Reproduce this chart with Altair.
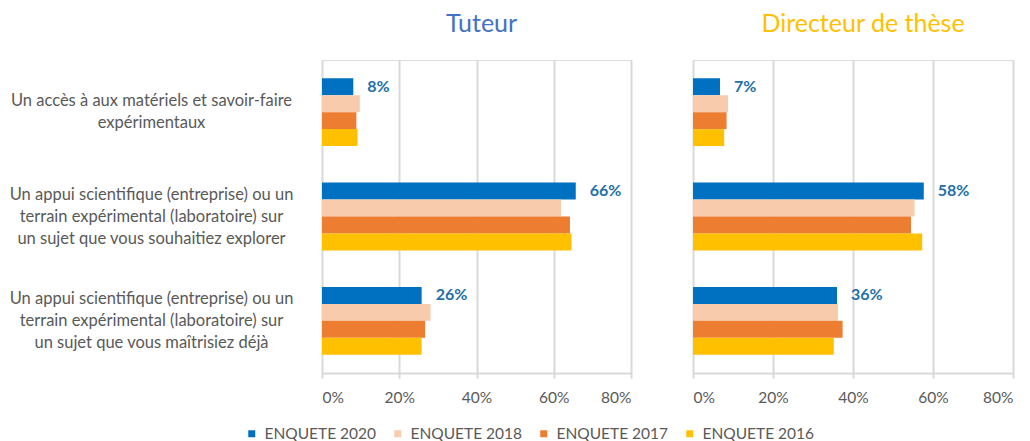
import altair as alt
import pandas as pd

categories = [
    "Un accès à aux matériels et savoir-faire|expérimentaux",
    "Un appui scientifique (entreprise) ou un|terrain expérimental (laboratoire) sur|un sujet que vous souhaitiez explorer",
    "Un appui scientifique (entreprise) ou un|terrain expérimental (laboratoire) sur|un sujet que vous maîtrisiez déjà",
]
series = ["ENQUETE 2020", "ENQUETE 2018", "ENQUETE 2017", "ENQUETE 2016"]
colors = ["#0070C0", "#F8CBAD", "#ED7D31", "#FFC000"]

tuteur_2020 = [8.1, 65.7, 25.8]
tuteur_2018 = [9.8, 61.9, 28.1]
tuteur_2017 = [8.9, 64.2, 26.7]
tuteur_2016 = [9.2, 64.6, 25.8]
tuteur_labels = ["8%", "66%", "26%"]

directeur_2020 = [6.75, 57.7, 36.0]
directeur_2018 = [8.75, 55.4, 36.25]
directeur_2017 = [8.4, 54.5, 37.4]
directeur_2016 = [7.8, 57.3, 35.2]
directeur_labels = ["7%", "58%", "36%"]

x_ticks = [0, 0.2, 0.4, 0.6, 0.8]

FONT = "Lato"
GRAY = "#595959"
GRID = "#D9D9D9"


def make_df(vals):
    rows = []
    for s, v in zip(series, vals):
        for c, x in zip(categories, v):
            rows.append({"cat": c, "series": s, "value": x / 100})
    return pd.DataFrame(rows)


def make_lbl(v2020, labels):
    return pd.DataFrame({"cat": categories, "series": series[0],
                         "value": [x / 100 for x in v2020], "label": labels})


def panel(df, ldf, width, title, tcolor, tdx, show_y):
    if show_y:
        yaxis = alt.Axis(labelExpr="split(datum.label, '|')", labelAlign="center",
                         labelBaseline="middle", labelPadding=171, labelLimit=400,
                         labelOffset={"condition": {"test": "length(split(datum.value, '|')) == 2",
                                                    "value": -11}, "value": -22},
                         labelLineHeight=22, labelFontSize=16.5, labelColor=GRAY,
                         labelFont=FONT, ticks=False, domain=False, title=None, grid=False)
    else:
        yaxis = alt.Axis(labels=False, ticks=False, domain=False, title=None, grid=False)
    y = alt.Y("cat:N", sort=categories,
              scale=alt.Scale(domain=categories, paddingInner=0.35, paddingOuter=0.175),
              axis=yaxis)
    yo = alt.YOffset("series:N", sort=series,
                     scale=alt.Scale(domain=series, paddingInner=0, paddingOuter=0))
    x = alt.X("value:Q", scale=alt.Scale(domain=[0, 0.8], nice=False),
              axis=alt.Axis(values=x_ticks, format=".0%", title=None, grid=True,
                            gridColor=GRID, gridWidth=2, domainColor=GRID, domainWidth=2,
                            tickColor=GRID, tickWidth=2, tickSize=5, labelPadding=12,
                            labelFontSize=15.5, labelColor=GRAY, labelFont=FONT))
    color = alt.Color("series:N", sort=series,
                      scale=alt.Scale(domain=series, range=colors),
                      legend=alt.Legend(orient="none", legendX=-78, legendY=366,
                                        direction="horizontal", columns=4, title=None,
                                        symbolType="square", symbolSize=49,
                                        symbolStrokeWidth=0, labelFontSize=15.5,
                                        labelColor=GRAY, labelFont=FONT,
                                        columnPadding=13, labelOffset=5,
                                        gridAlign="none"))
    bars = alt.Chart(df).mark_bar().encode(x=x, y=y, yOffset=yo, color=color)
    text = alt.Chart(ldf).mark_text(align="left", baseline="middle", dx=14,
                                    fontWeight="bold", fontSize=16, font=FONT,
                                    color="#236FA8").encode(
        x=alt.X("value:Q"), y=alt.Y("cat:N", sort=categories), yOffset=yo, text="label:N")
    return alt.layer(bars, text).properties(
        width=width, height=313,
        title=alt.TitleParams(text=title, color=tcolor, fontSize=25, font=FONT,
                              fontWeight="normal", anchor="middle", offset=23, dx=tdx))


left = panel(make_df([tuteur_2020, tuteur_2018, tuteur_2017, tuteur_2016]),
             make_lbl(tuteur_2020, tuteur_labels), 309, "Tuteur", "#4472C4", 5, True)
right = panel(make_df([directeur_2020, directeur_2018, directeur_2017, directeur_2016]),
              make_lbl(directeur_2020, directeur_labels), 320, "Directeur de thèse",
              "#FFC000", 10, False)

chart = alt.hconcat(left, right, spacing=62, bounds="flush").properties(
    padding={"left": 0, "top": 3, "right": 5, "bottom": 5}
).configure_view(stroke=None).configure(background="white")

chart.save("out.html", embed_options={"renderer": "svg", "actions": False})
